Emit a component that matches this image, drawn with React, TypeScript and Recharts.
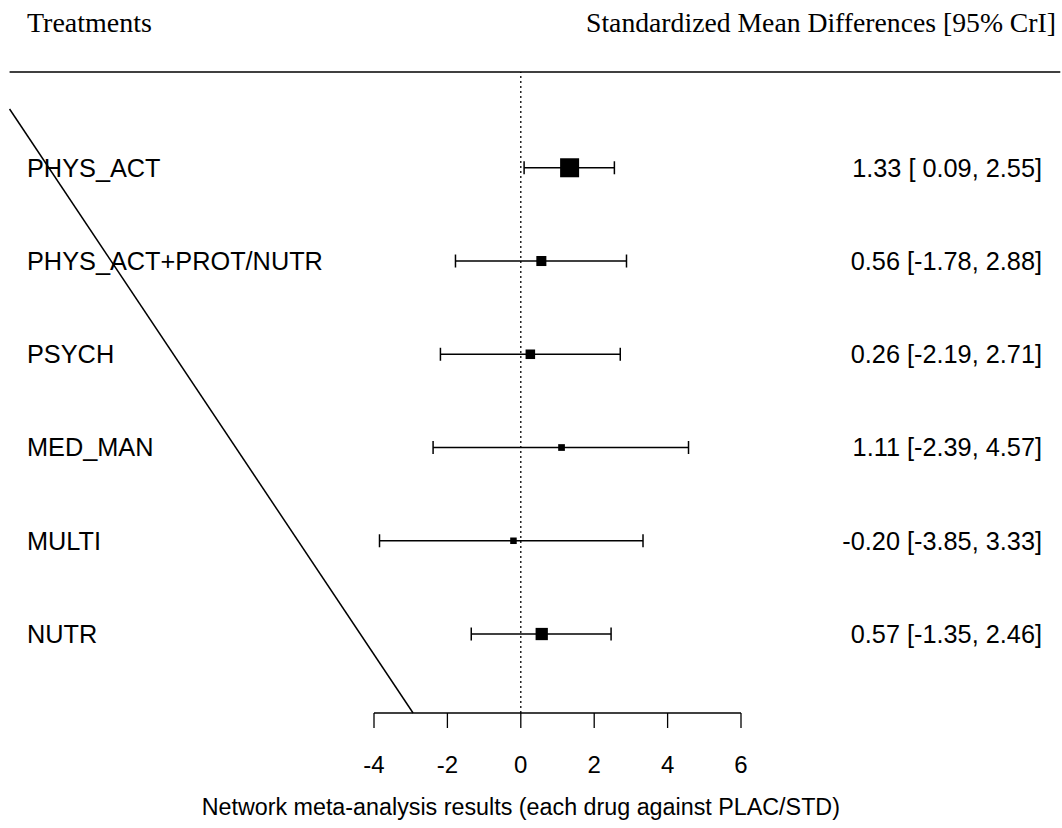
import React from "react";
import {
  ScatterChart,
  Scatter,
  XAxis,
  YAxis,
  ZAxis,
  ErrorBar,
  ReferenceLine,
  Label,
} from "recharts";

// forest plot values, top row first
const treatments = ["PHYS_ACT", "PHYS_ACT+PROT/NUTR", "PSYCH", "MED_MAN", "MULTI", "NUTR"];
const means = [1.33, 0.56, 0.26, 1.11, -0.2, 0.57];
const lower = [0.09, -1.78, -2.19, -2.39, -3.85, -1.35];
const upper = [2.55, 2.88, 2.71, 4.57, 3.33, 2.46];
const xTicks = [-4, -2, 0, 2, 4, 6];

const SANS = "'Liberation Sans', Arial, sans-serif";
const SERIF = "'Liberation Serif', 'Times New Roman', serif";

const fmt = (v: number) => v.toFixed(2);
const pad = (v: number) => (v < 0 ? fmt(v) : " " + fmt(v));

const rows = treatments.map((name, i) => {
  const se = (upper[i] - lower[i]) / 3.92;
  return {
    name,
    row: treatments.length - i,
    mean: means[i],
    err: [means[i] - lower[i], upper[i] - means[i]],
    weight: 1 / (se * se),
    label: `${fmt(means[i])} [${pad(lower[i])}, ${fmt(upper[i])}]`,
  };
});

const RowTick = (props: any) => {
  const { y, payload } = props;
  const r = rows.find((d) => d.row === payload.value);
  if (!r) return null;
  return (
    <g>
      <text x={27} y={y} dy={8.8} fontSize={25.3} fontFamily={SANS} fill="#000">
        {r.name}
      </text>
      <text x={1042} y={y} dy={8.8} fontSize={25.3} fontFamily={SANS} fill="#000" textAnchor="end">
        {r.label}
      </text>
    </g>
  );
};

const Box = (props: any) => {
  const s = Math.sqrt(props.size);
  return <rect x={props.cx - s / 2} y={props.cy - s / 2} width={s} height={s} fill="#000" />;
};

const AxisTitle = (props: any) => {
  const { viewBox } = props;
  return (
    <text
      x={viewBox.x + viewBox.width * 0.4}
      y={815}
      textAnchor="middle"
      fontSize={23.3}
      fontFamily={SANS}
      fill="#000"
    >
      Network meta-analysis results (each drug against PLAC/STD)
    </text>
  );
};

const App = () => {
  return (
    <div style={{ position: "absolute", left: 0, top: 0, width: 1062, height: 828, background: "#fff" }}>
      <svg width={1062} height={60} style={{ position: "absolute", left: 0, top: 0 }}>
        <text x={27} y={32} fontSize={28} fontFamily={SERIF} fill="#000">
          Treatments
        </text>
        <text x={1056} y={32} fontSize={27.7} fontFamily={SERIF} fill="#000" textAnchor="end">
          Standardized Mean Differences [95% CrI]
        </text>
      </svg>
      <ScatterChart width={1062} height={828} margin={{ top: 72, right: 321, bottom: 0, left: 0 }}>
        <XAxis
          dataKey="mean"
          type="number"
          domain={[-4, 6]}
          ticks={xTicks}
          height={115}
          tickSize={15}
          tickMargin={28}
          stroke="#000"
          strokeWidth={1.3}
          tick={{ fill: "#000", fontSize: 24, fontFamily: SANS }}
        >
          <Label content={<AxisTitle />} />
        </XAxis>
        <YAxis
          dataKey="row"
          type="number"
          domain={[0.153, 7.027]}
          ticks={rows.map((d) => d.row)}
          width={374}
          axisLine={false}
          tickLine={false}
          tick={<RowTick />}
        />
        <ZAxis dataKey="weight" type="number" domain={[0, 3]} range={[0, 426.6]} />
        <ReferenceLine x={0} stroke="#000" strokeDasharray="2 3" strokeWidth={1.3} />
        <ReferenceLine
          segment={[
            { x: -13.93, y: 7.027 },
            { x: 14.7, y: 7.027 },
          ]}
          stroke="#000"
          strokeWidth={1.5}
          ifOverflow="visible"
        />
        <ReferenceLine
          segment={[
            { x: -13.93, y: 6.63 },
            { x: -2.935, y: 0.153 },
          ]}
          stroke="#000"
          strokeWidth={1.5}
          ifOverflow="visible"
        />
        <Scatter data={rows} shape={<Box />} isAnimationActive={false}>
          <ErrorBar
            dataKey="err"
            direction="x"
            width={6.5}
            stroke="#000"
            strokeWidth={1.5}
            isAnimationActive={false}
          />
        </Scatter>
      </ScatterChart>
    </div>
  );
};

export default App;
